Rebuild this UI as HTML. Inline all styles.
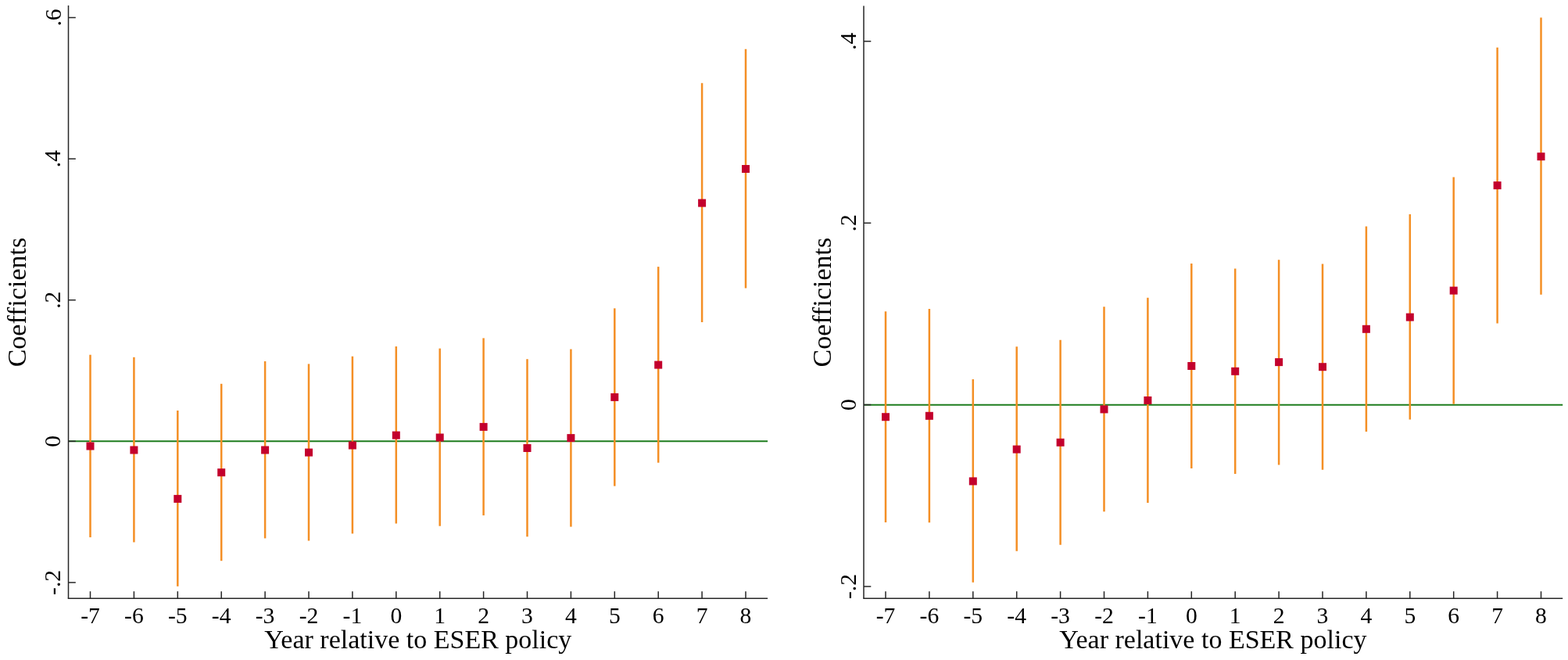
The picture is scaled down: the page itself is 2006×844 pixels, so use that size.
<!DOCTYPE html>
<html><head><meta charset="utf-8"><title>Event study coefficients</title>
<style>
html,body{margin:0;padding:0;background:#fff;}
body{width:2006px;height:844px;overflow:hidden;}
svg{display:block;}
text{font-family:"Liberation Serif","Times New Roman",serif;fill:#000;}
</style></head><body>
<svg width="2006" height="844" viewBox="0 0 2006 844">
<rect width="2006" height="844" fill="#fff"/>
<line x1="87.5" y1="564.2" x2="982.1" y2="564.2" stroke="#1e7d1e" stroke-width="2"/>
<line x1="87.5" y1="7" x2="87.5" y2="765.2" stroke="#262626" stroke-width="1.5"/>
<line x1="86.75" y1="765.2" x2="982.1" y2="765.2" stroke="#262626" stroke-width="1.5"/>
<line x1="87.5" y1="744.9" x2="96.8" y2="744.9" stroke="#262626" stroke-width="1.5"/>
<text x="77.5" y="744.9" transform="rotate(-90 77.5 744.9)" text-anchor="middle" font-size="29.6">-.2</text>
<line x1="87.5" y1="564.3" x2="96.8" y2="564.3" stroke="#262626" stroke-width="1.5"/>
<text x="77.5" y="564.3" transform="rotate(-90 77.5 564.3)" text-anchor="middle" font-size="29.6">0</text>
<line x1="87.5" y1="383.7" x2="96.8" y2="383.7" stroke="#262626" stroke-width="1.5"/>
<text x="77.5" y="383.7" transform="rotate(-90 77.5 383.7)" text-anchor="middle" font-size="29.6">.2</text>
<line x1="87.5" y1="203.1" x2="96.8" y2="203.1" stroke="#262626" stroke-width="1.5"/>
<text x="77.5" y="203.1" transform="rotate(-90 77.5 203.1)" text-anchor="middle" font-size="29.6">.4</text>
<line x1="87.5" y1="22.5" x2="96.8" y2="22.5" stroke="#262626" stroke-width="1.5"/>
<text x="77.5" y="22.5" transform="rotate(-90 77.5 22.5)" text-anchor="middle" font-size="29.6">.6</text>
<line x1="115.5" y1="765.2" x2="115.5" y2="756.2" stroke="#262626" stroke-width="1.5"/>
<text x="115.5" y="797" text-anchor="middle" font-size="29.6">-7</text>
<line x1="171.4" y1="765.2" x2="171.4" y2="756.2" stroke="#262626" stroke-width="1.5"/>
<text x="171.4" y="797" text-anchor="middle" font-size="29.6">-6</text>
<line x1="227.3" y1="765.2" x2="227.3" y2="756.2" stroke="#262626" stroke-width="1.5"/>
<text x="227.3" y="797" text-anchor="middle" font-size="29.6">-5</text>
<line x1="283.2" y1="765.2" x2="283.2" y2="756.2" stroke="#262626" stroke-width="1.5"/>
<text x="283.2" y="797" text-anchor="middle" font-size="29.6">-4</text>
<line x1="339.1" y1="765.2" x2="339.1" y2="756.2" stroke="#262626" stroke-width="1.5"/>
<text x="339.1" y="797" text-anchor="middle" font-size="29.6">-3</text>
<line x1="395.0" y1="765.2" x2="395.0" y2="756.2" stroke="#262626" stroke-width="1.5"/>
<text x="395.0" y="797" text-anchor="middle" font-size="29.6">-2</text>
<line x1="450.9" y1="765.2" x2="450.9" y2="756.2" stroke="#262626" stroke-width="1.5"/>
<text x="450.9" y="797" text-anchor="middle" font-size="29.6">-1</text>
<line x1="506.8" y1="765.2" x2="506.8" y2="756.2" stroke="#262626" stroke-width="1.5"/>
<text x="506.8" y="797" text-anchor="middle" font-size="29.6">0</text>
<line x1="562.7" y1="765.2" x2="562.7" y2="756.2" stroke="#262626" stroke-width="1.5"/>
<text x="562.7" y="797" text-anchor="middle" font-size="29.6">1</text>
<line x1="618.6" y1="765.2" x2="618.6" y2="756.2" stroke="#262626" stroke-width="1.5"/>
<text x="618.6" y="797" text-anchor="middle" font-size="29.6">2</text>
<line x1="674.5" y1="765.2" x2="674.5" y2="756.2" stroke="#262626" stroke-width="1.5"/>
<text x="674.5" y="797" text-anchor="middle" font-size="29.6">3</text>
<line x1="730.4" y1="765.2" x2="730.4" y2="756.2" stroke="#262626" stroke-width="1.5"/>
<text x="730.4" y="797" text-anchor="middle" font-size="29.6">4</text>
<line x1="786.3" y1="765.2" x2="786.3" y2="756.2" stroke="#262626" stroke-width="1.5"/>
<text x="786.3" y="797" text-anchor="middle" font-size="29.6">5</text>
<line x1="842.2" y1="765.2" x2="842.2" y2="756.2" stroke="#262626" stroke-width="1.5"/>
<text x="842.2" y="797" text-anchor="middle" font-size="29.6">6</text>
<line x1="898.1" y1="765.2" x2="898.1" y2="756.2" stroke="#262626" stroke-width="1.5"/>
<text x="898.1" y="797" text-anchor="middle" font-size="29.6">7</text>
<line x1="954.0" y1="765.2" x2="954.0" y2="756.2" stroke="#262626" stroke-width="1.5"/>
<text x="954.0" y="797" text-anchor="middle" font-size="29.6">8</text>
<line x1="115.5" y1="453.7" x2="115.5" y2="687.1" stroke="#f48f25" stroke-width="2.5"/>
<line x1="171.4" y1="456.8" x2="171.4" y2="693.4" stroke="#f48f25" stroke-width="2.5"/>
<line x1="227.3" y1="525.0" x2="227.3" y2="749.8" stroke="#f48f25" stroke-width="2.5"/>
<line x1="283.2" y1="490.8" x2="283.2" y2="717.2" stroke="#f48f25" stroke-width="2.5"/>
<line x1="339.1" y1="462.0" x2="339.1" y2="688.4" stroke="#f48f25" stroke-width="2.5"/>
<line x1="395.0" y1="465.4" x2="395.0" y2="691.5" stroke="#f48f25" stroke-width="2.5"/>
<line x1="450.9" y1="455.7" x2="450.9" y2="682.4" stroke="#f48f25" stroke-width="2.5"/>
<line x1="506.8" y1="443.0" x2="506.8" y2="669.5" stroke="#f48f25" stroke-width="2.5"/>
<line x1="562.7" y1="445.6" x2="562.7" y2="672.7" stroke="#f48f25" stroke-width="2.5"/>
<line x1="618.6" y1="432.4" x2="618.6" y2="659.1" stroke="#f48f25" stroke-width="2.5"/>
<line x1="674.5" y1="459.2" x2="674.5" y2="686.3" stroke="#f48f25" stroke-width="2.5"/>
<line x1="730.4" y1="446.5" x2="730.4" y2="673.6" stroke="#f48f25" stroke-width="2.5"/>
<line x1="786.3" y1="394.3" x2="786.3" y2="621.6" stroke="#f48f25" stroke-width="2.5"/>
<line x1="842.2" y1="341.1" x2="842.2" y2="591.7" stroke="#f48f25" stroke-width="2.5"/>
<line x1="898.1" y1="106.3" x2="898.1" y2="412.1" stroke="#f48f25" stroke-width="2.5"/>
<line x1="954.0" y1="62.7" x2="954.0" y2="368.6" stroke="#f48f25" stroke-width="2.5"/>
<rect x="110.5" y="565.5" width="10" height="10" fill="#c3002d"/>
<rect x="166.4" y="570.5" width="10" height="10" fill="#c3002d"/>
<rect x="222.3" y="632.9" width="10" height="10" fill="#c3002d"/>
<rect x="278.2" y="599.2" width="10" height="10" fill="#c3002d"/>
<rect x="334.1" y="570.5" width="10" height="10" fill="#c3002d"/>
<rect x="390.0" y="573.6" width="10" height="10" fill="#c3002d"/>
<rect x="445.9" y="564.5" width="10" height="10" fill="#c3002d"/>
<rect x="501.8" y="551.6" width="10" height="10" fill="#c3002d"/>
<rect x="557.7" y="554.5" width="10" height="10" fill="#c3002d"/>
<rect x="613.6" y="540.9" width="10" height="10" fill="#c3002d"/>
<rect x="669.5" y="568.0" width="10" height="10" fill="#c3002d"/>
<rect x="725.4" y="555.1" width="10" height="10" fill="#c3002d"/>
<rect x="781.3" y="502.9" width="10" height="10" fill="#c3002d"/>
<rect x="837.2" y="461.6" width="10" height="10" fill="#c3002d"/>
<rect x="893.1" y="254.6" width="10" height="10" fill="#c3002d"/>
<rect x="949.0" y="211.0" width="10" height="10" fill="#c3002d"/>
<text x="32.6" y="386.6" transform="rotate(-90 32.6 386.6)" text-anchor="middle" font-size="34">Coefficients</text>
<text x="534.75" y="828.7" text-anchor="middle" font-size="34">Year relative to ESER policy</text>
<line x1="1105.0" y1="517.7" x2="1999.2" y2="517.7" stroke="#1e7d1e" stroke-width="2"/>
<line x1="1105.0" y1="7.5" x2="1105.0" y2="765.2" stroke="#262626" stroke-width="1.5"/>
<line x1="1104.25" y1="765.2" x2="1999.2" y2="765.2" stroke="#262626" stroke-width="1.5"/>
<line x1="1105.0" y1="750.0" x2="1114.3" y2="750.0" stroke="#262626" stroke-width="1.5"/>
<text x="1095.0" y="750.0" transform="rotate(-90 1095.0 750.0)" text-anchor="middle" font-size="29.6">-.2</text>
<line x1="1105.0" y1="517.6" x2="1114.3" y2="517.6" stroke="#262626" stroke-width="1.5"/>
<text x="1095.0" y="517.6" transform="rotate(-90 1095.0 517.6)" text-anchor="middle" font-size="29.6">0</text>
<line x1="1105.0" y1="285.2" x2="1114.3" y2="285.2" stroke="#262626" stroke-width="1.5"/>
<text x="1095.0" y="285.2" transform="rotate(-90 1095.0 285.2)" text-anchor="middle" font-size="29.6">.2</text>
<line x1="1105.0" y1="52.8" x2="1114.3" y2="52.8" stroke="#262626" stroke-width="1.5"/>
<text x="1095.0" y="52.8" transform="rotate(-90 1095.0 52.8)" text-anchor="middle" font-size="29.6">.4</text>
<line x1="1133.0" y1="765.2" x2="1133.0" y2="756.2" stroke="#262626" stroke-width="1.5"/>
<text x="1133.0" y="797" text-anchor="middle" font-size="29.6">-7</text>
<line x1="1188.9" y1="765.2" x2="1188.9" y2="756.2" stroke="#262626" stroke-width="1.5"/>
<text x="1188.9" y="797" text-anchor="middle" font-size="29.6">-6</text>
<line x1="1244.8" y1="765.2" x2="1244.8" y2="756.2" stroke="#262626" stroke-width="1.5"/>
<text x="1244.8" y="797" text-anchor="middle" font-size="29.6">-5</text>
<line x1="1300.7" y1="765.2" x2="1300.7" y2="756.2" stroke="#262626" stroke-width="1.5"/>
<text x="1300.7" y="797" text-anchor="middle" font-size="29.6">-4</text>
<line x1="1356.6" y1="765.2" x2="1356.6" y2="756.2" stroke="#262626" stroke-width="1.5"/>
<text x="1356.6" y="797" text-anchor="middle" font-size="29.6">-3</text>
<line x1="1412.5" y1="765.2" x2="1412.5" y2="756.2" stroke="#262626" stroke-width="1.5"/>
<text x="1412.5" y="797" text-anchor="middle" font-size="29.6">-2</text>
<line x1="1468.4" y1="765.2" x2="1468.4" y2="756.2" stroke="#262626" stroke-width="1.5"/>
<text x="1468.4" y="797" text-anchor="middle" font-size="29.6">-1</text>
<line x1="1524.3" y1="765.2" x2="1524.3" y2="756.2" stroke="#262626" stroke-width="1.5"/>
<text x="1524.3" y="797" text-anchor="middle" font-size="29.6">0</text>
<line x1="1580.2" y1="765.2" x2="1580.2" y2="756.2" stroke="#262626" stroke-width="1.5"/>
<text x="1580.2" y="797" text-anchor="middle" font-size="29.6">1</text>
<line x1="1636.1" y1="765.2" x2="1636.1" y2="756.2" stroke="#262626" stroke-width="1.5"/>
<text x="1636.1" y="797" text-anchor="middle" font-size="29.6">2</text>
<line x1="1692.0" y1="765.2" x2="1692.0" y2="756.2" stroke="#262626" stroke-width="1.5"/>
<text x="1692.0" y="797" text-anchor="middle" font-size="29.6">3</text>
<line x1="1747.9" y1="765.2" x2="1747.9" y2="756.2" stroke="#262626" stroke-width="1.5"/>
<text x="1747.9" y="797" text-anchor="middle" font-size="29.6">4</text>
<line x1="1803.8" y1="765.2" x2="1803.8" y2="756.2" stroke="#262626" stroke-width="1.5"/>
<text x="1803.8" y="797" text-anchor="middle" font-size="29.6">5</text>
<line x1="1859.7" y1="765.2" x2="1859.7" y2="756.2" stroke="#262626" stroke-width="1.5"/>
<text x="1859.7" y="797" text-anchor="middle" font-size="29.6">6</text>
<line x1="1915.6" y1="765.2" x2="1915.6" y2="756.2" stroke="#262626" stroke-width="1.5"/>
<text x="1915.6" y="797" text-anchor="middle" font-size="29.6">7</text>
<line x1="1971.5" y1="765.2" x2="1971.5" y2="756.2" stroke="#262626" stroke-width="1.5"/>
<text x="1971.5" y="797" text-anchor="middle" font-size="29.6">8</text>
<line x1="1133.0" y1="398.2" x2="1133.0" y2="667.9" stroke="#f48f25" stroke-width="2.5"/>
<line x1="1188.9" y1="394.9" x2="1188.9" y2="668.3" stroke="#f48f25" stroke-width="2.5"/>
<line x1="1244.8" y1="485.1" x2="1244.8" y2="744.7" stroke="#f48f25" stroke-width="2.5"/>
<line x1="1300.7" y1="443.3" x2="1300.7" y2="704.8" stroke="#f48f25" stroke-width="2.5"/>
<line x1="1356.6" y1="434.7" x2="1356.6" y2="696.7" stroke="#f48f25" stroke-width="2.5"/>
<line x1="1412.5" y1="392.2" x2="1412.5" y2="654.3" stroke="#f48f25" stroke-width="2.5"/>
<line x1="1468.4" y1="380.7" x2="1468.4" y2="643.0" stroke="#f48f25" stroke-width="2.5"/>
<line x1="1524.3" y1="337.1" x2="1524.3" y2="599.1" stroke="#f48f25" stroke-width="2.5"/>
<line x1="1580.2" y1="343.5" x2="1580.2" y2="605.9" stroke="#f48f25" stroke-width="2.5"/>
<line x1="1636.1" y1="332.2" x2="1636.1" y2="594.5" stroke="#f48f25" stroke-width="2.5"/>
<line x1="1692.0" y1="337.6" x2="1692.0" y2="600.7" stroke="#f48f25" stroke-width="2.5"/>
<line x1="1747.9" y1="289.4" x2="1747.9" y2="551.9" stroke="#f48f25" stroke-width="2.5"/>
<line x1="1803.8" y1="274.1" x2="1803.8" y2="536.5" stroke="#f48f25" stroke-width="2.5"/>
<line x1="1859.7" y1="226.6" x2="1859.7" y2="516.7" stroke="#f48f25" stroke-width="2.5"/>
<line x1="1915.6" y1="60.7" x2="1915.6" y2="413.6" stroke="#f48f25" stroke-width="2.5"/>
<line x1="1971.5" y1="22.6" x2="1971.5" y2="376.8" stroke="#f48f25" stroke-width="2.5"/>
<rect x="1128.0" y="528.2" width="10" height="10" fill="#c3002d"/>
<rect x="1183.9" y="526.8" width="10" height="10" fill="#c3002d"/>
<rect x="1239.8" y="610.4" width="10" height="10" fill="#c3002d"/>
<rect x="1295.7" y="569.6" width="10" height="10" fill="#c3002d"/>
<rect x="1351.6" y="560.8" width="10" height="10" fill="#c3002d"/>
<rect x="1407.5" y="518.4" width="10" height="10" fill="#c3002d"/>
<rect x="1463.4" y="507.0" width="10" height="10" fill="#c3002d"/>
<rect x="1519.3" y="463.0" width="10" height="10" fill="#c3002d"/>
<rect x="1575.2" y="469.8" width="10" height="10" fill="#c3002d"/>
<rect x="1631.1" y="458.1" width="10" height="10" fill="#c3002d"/>
<rect x="1687.0" y="464.2" width="10" height="10" fill="#c3002d"/>
<rect x="1742.9" y="415.8" width="10" height="10" fill="#c3002d"/>
<rect x="1798.8" y="400.6" width="10" height="10" fill="#c3002d"/>
<rect x="1854.7" y="366.6" width="10" height="10" fill="#c3002d"/>
<rect x="1910.6" y="232.1" width="10" height="10" fill="#c3002d"/>
<rect x="1966.5" y="195.2" width="10" height="10" fill="#c3002d"/>
<text x="1063.0" y="386.6" transform="rotate(-90 1063.0 386.6)" text-anchor="middle" font-size="34">Coefficients</text>
<text x="1551.95" y="828.7" text-anchor="middle" font-size="34">Year relative to ESER policy</text>
</svg>
</body></html>
